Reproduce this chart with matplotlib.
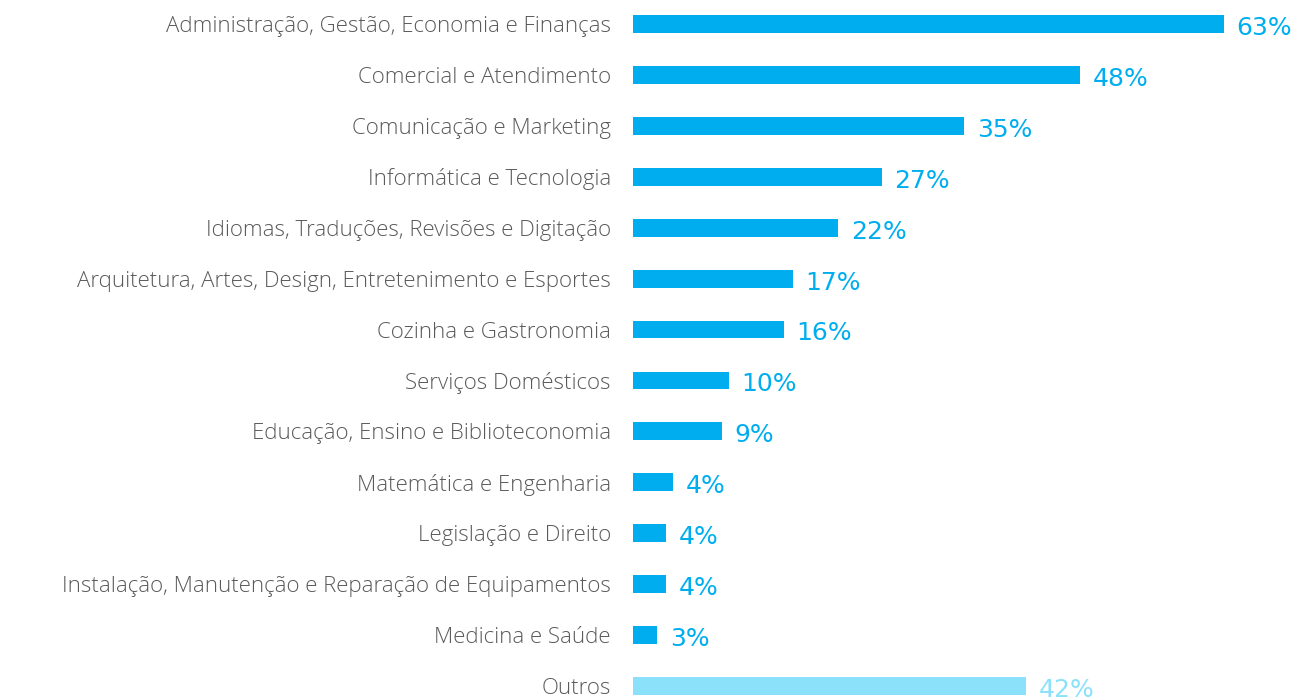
"""Horizontal bar chart: areas of interest (percent of respondents)."""
import matplotlib

matplotlib.use("Agg")
import matplotlib.pyplot as plt

categories = [
    "Administração, Gestão, Economia e Finanças",
    "Comercial e Atendimento",
    "Comunicação e Marketing",
    "Informática e Tecnologia",
    "Idiomas, Traduções, Revisões e Digitação",
    "Arquitetura, Artes, Design, Entretenimento e Esportes",
    "Cozinha e Gastronomia",
    "Serviços Domésticos",
    "Educação, Ensino e Biblioteconomia",
    "Matemática e Engenharia",
    "Legislação e Direito",
    "Instalação, Manutenção e Reparação de Equipamentos",
    "Medicina e Saúde",
    "Outros",
]
# bar lengths (percent)
values = [63.0, 47.7, 35.3, 26.5, 21.9, 17.0, 16.1, 10.2, 9.5, 4.3, 3.5, 3.5, 2.6, 41.9]
# percentages as printed next to each bar
shown = [63, 48, 35, 27, 22, 17, 16, 10, 9, 4, 4, 4, 3, 42]

BLUE = "#00aeef"
LIGHT = "#8be1fa"
GREY = "#5a5a5a"

plt.rcParams["font.family"] = ["Open Sans", "DejaVu Sans"]

fig = plt.figure(figsize=(13, 6.97), dpi=100)
ax = fig.add_axes([0.487, -0.0208, 0.505, 1.0229])

colors = [LIGHT if c == "Outros" else BLUE for c in categories]
pos = list(range(len(categories)))
ax.barh(pos, values, height=0.35, color=colors)

for y, v, s, c in zip(pos, values, shown, colors):
    ax.annotate(f"{s}%", (v, y), xytext=(9, -1), textcoords="offset points",
                ha="left", va="center_baseline", fontsize=18, color=c,
                family=["DejaVu Sans"], annotation_clip=False)

ax.set_yticks(pos)
ax.set_yticklabels(categories, fontsize=16, color=GREY, fontweight="light")
ax.tick_params(axis="y", length=0, pad=16)
ax.set_xticks([])
ax.set_xlim(0, 70)
ax.set_ylim(len(categories) - 0.5, -0.5)
for side in ax.spines.values():
    side.set_visible(False)

fig.savefig("out.png", dpi=100)
